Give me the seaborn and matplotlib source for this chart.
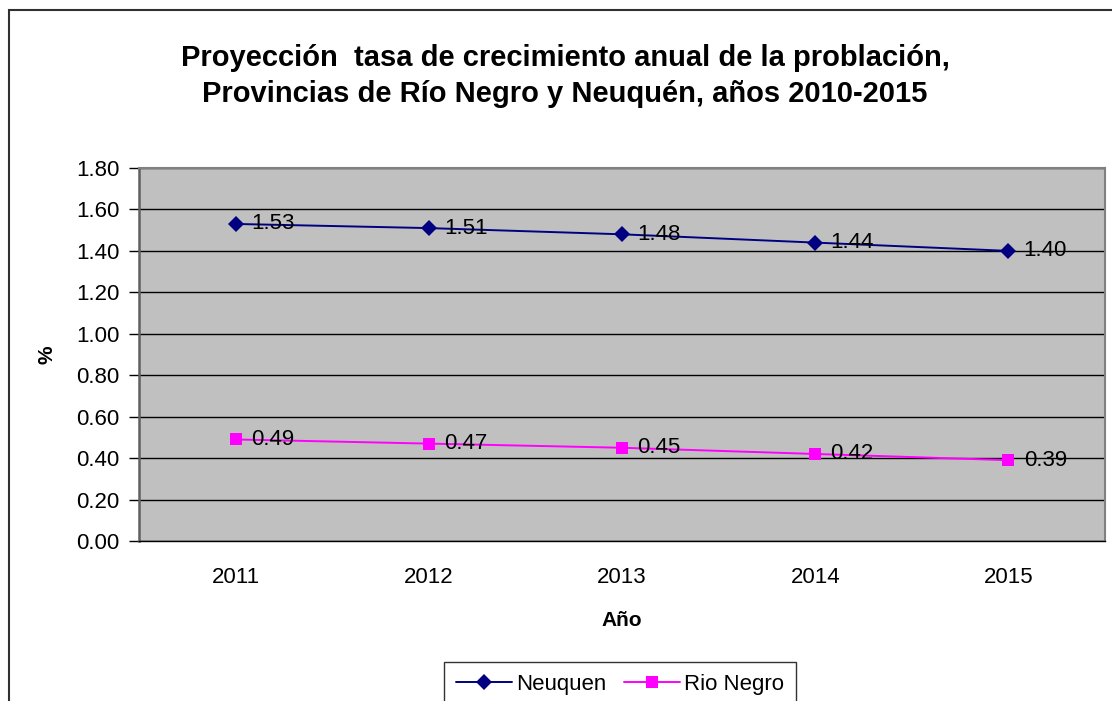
import pandas as pd
import matplotlib.pyplot as plt
import seaborn as sns
from matplotlib.patches import Rectangle
from matplotlib.lines import Line2D

# Data
years = [2011, 2012, 2013, 2014, 2015]
neuquen = [1.53, 1.51, 1.48, 1.44, 1.40]
rio_negro = [0.49, 0.47, 0.45, 0.42, 0.39]
y_ticks = [0.0, 0.2, 0.4, 0.6, 0.8, 1.0, 1.2, 1.4, 1.6, 1.8]

df = pd.DataFrame({
    'Año': years * 2,
    'valor': neuquen + rio_negro,
    'Serie': ['Neuquen'] * len(years) + ['Rio Negro'] * len(years),
})

colors = {'Neuquen': '#000080', 'Rio Negro': '#FF00FF'}
markers = {'Neuquen': 'D', 'Rio Negro': 's'}

sns.set_style('white')
plt.rcParams['font.family'] = ['Liberation Sans', 'DejaVu Sans']
for k in ['text.color', 'axes.labelcolor', 'xtick.color', 'ytick.color']:
    plt.rcParams[k] = 'black'

fig = plt.figure(figsize=(11.12, 7.01), dpi=100)
ax = fig.add_axes([139 / 1112, 1 - 541 / 701, (1105 - 139) / 1112, (541 - 168) / 701])
ax.set_facecolor('#C0C0C0')

sns.lineplot(data=df, x='Año', y='valor', hue='Serie', style='Serie',
             palette=colors, markers=markers, dashes=False, linewidth=1.4,
             markersize=8.5, markeredgewidth=0, legend=False, ax=ax)

# Data labels
for serie, vals in [('Neuquen', neuquen), ('Rio Negro', rio_negro)]:
    for x, v in zip(years, vals):
        ax.annotate(f'{v:.2f}', (x, v), xytext=(11, 0), textcoords='offset points',
                    ha='left', va='center', fontsize=16, color='black')

ax.set_xlim(years[0] - 0.5, years[-1] + 0.5)
ax.set_ylim(0, 1.8)
ax.set_yticks(y_ticks)
ax.set_yticklabels([f'{t:.2f}' for t in y_ticks], fontsize=16)
ax.set_xticks(years)
ax.set_xticklabels([str(y) for y in years], fontsize=16)
ax.set_xticks([y - 0.5 for y in years] + [years[-1] + 0.5], minor=True)
ax.tick_params(axis='x', which='major', length=0, pad=19)
ax.tick_params(axis='x', which='minor', length=7, width=1, color='black', direction='out')
ax.tick_params(axis='y', length=7, width=1, color='black', direction='out', pad=7, left=True)

ax.grid(axis='y', color='black', linewidth=1)
ax.set_axisbelow(True)
for side in ['top', 'right']:
    ax.spines[side].set_color('#808080')
    ax.spines[side].set_linewidth(1.5)
ax.spines['left'].set_color('#606060')
ax.spines['left'].set_linewidth(1.8)
ax.spines['bottom'].set_color('black')
ax.spines['bottom'].set_linewidth(1)

ax.set_xlabel('Año', fontsize=15, fontweight='bold', labelpad=16)
ax.set_ylabel('%', fontsize=15, fontweight='bold', labelpad=14)

fig.text(565 / 1112, 1 - 76 / 701,
         'Proyección  tasa de crecimiento anual de la problación,\n'
         'Provincias de Río Negro y Neuquén, años 2010-2015',
         ha='center', va='center', fontsize=21, fontweight='bold', linespacing=1.35)

handles = [Line2D([], [], color=colors[s], marker=markers[s], markersize=8.5,
                  markeredgewidth=0, linewidth=1.4) for s in ['Neuquen', 'Rio Negro']]
leg = fig.legend(handles, ['Neuquen', 'Rio Negro'], loc='upper center',
                 bbox_to_anchor=(620 / 1112, 1 - 662 / 701), ncol=2, fontsize=16,
                 frameon=True, fancybox=False, handlelength=2.5, handletextpad=0.2,
                 columnspacing=0.8, borderpad=0.55, borderaxespad=0)
leg.get_frame().set_edgecolor('black')
leg.get_frame().set_linewidth(1)

# Outer chart border (cut off on the right and bottom)
fig.add_artist(Rectangle((9 / 1112, -0.2), 2, 1 - 10 / 701 + 0.2,
                         transform=fig.transFigure, fill=False,
                         edgecolor='#303030', linewidth=1.5))

fig.savefig('out.png', dpi=100)
